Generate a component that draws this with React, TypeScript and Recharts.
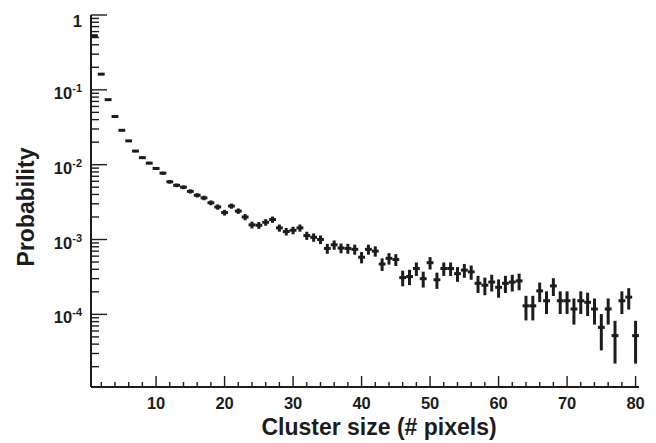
import { ReactElement } from 'react'
import { ScatterChart, Scatter, XAxis, YAxis, ErrorBar } from 'recharts'

const inkColor = '#1c1c1c'
const fontFamily = '"Liberation Sans", Arial, Helvetica, sans-serif'

const chartW = 656
const chartH = 443
const plotLeft = 91
const plotBottom = 387

// probability per cluster size 1..80
const probability = [
   0.53, 0.162, 0.074, 0.044, 0.0288, 0.0208, 0.0152, 0.0124, 0.0105, 0.0089,
   0.0077, 0.0059, 0.0053, 0.005, 0.0044, 0.0039, 0.0036, 0.0031, 0.00272, 0.00229,
   0.0028, 0.0024, 0.002, 0.00157, 0.00155, 0.0017, 0.00185, 0.00143, 0.00128, 0.00133,
   0.00143, 0.00113, 0.00107, 0.001, 0.00076, 0.00085, 0.00077, 0.00076, 0.00074, 0.00058,
   0.00074, 0.0007, 0.00047, 0.00056, 0.00054, 0.00031, 0.00032, 0.00041, 0.0003, 0.00049,
   0.00029, 0.00041, 0.00041, 0.00035, 0.00039, 0.00037, 0.00026, 0.000245, 0.00027, 0.00023,
   0.00026, 0.00027, 0.00028, 0.00013, 0.00013, 0.000206, 0.000152, 0.00024, 0.000152, 0.000152,
   0.000118, 0.000152, 0.000145, 0.000118, 0.000067, 0.000118, 0.000052, 0.000152, 0.00017, 0.000052
]

// vertical error bar half-lengths
const probabilityError = [
   0.003, 0.0017, 0.0011, 0.00087, 0.00071, 0.0006, 0.00051, 0.00046, 0.00043, 0.00039,
   0.00036, 0.00032, 0.0003, 0.00029, 0.00028, 0.00026, 0.00025, 0.00023, 0.00022, 0.0002,
   0.00022, 0.0002, 0.00019, 0.000165, 0.000164, 0.000171, 0.000179, 0.000157, 0.000149, 0.000152,
   0.000157, 0.00014, 0.000136, 0.000132, 0.000115, 0.000121, 0.000115, 0.000115, 0.000113, 0.0001,
   0.000113, 0.00011, 0.00009, 0.000098, 0.000097, 0.000073, 0.000074, 0.000084, 0.000072, 0.000092,
   0.000071, 0.000084, 0.000084, 0.000078, 0.000082, 0.00008, 0.000067, 0.000065, 0.000068, 0.000063,
   0.000067, 0.000068, 0.00007, 0.000047, 0.000047, 0.00006, 0.000051, 0.000064, 0.000051, 0.000051,
   0.000045, 0.000051, 0.00005, 0.000045, 0.000034, 0.000045, 0.00003, 0.000051, 0.000054, 0.00003
]

const binHalfWidth = 0.5
const xDomain: [number, number] = [0.5, 80.5]
const yDomain: [number, number] = [1.07e-5, 1]

const xTicks = [2, 4, 6, 8, 10, 12, 14, 16, 18, 20, 22, 24, 26, 28, 30, 32, 34, 36, 38, 40,
   42, 44, 46, 48, 50, 52, 54, 56, 58, 60, 62, 64, 66, 68, 70, 72, 74, 76, 78, 80]
const xMajorEvery = 10

const yDecades = [1e-5, 1e-4, 1e-3, 1e-2, 1e-1, 1]
const yMinorSteps = [2, 3, 4, 5, 6, 7, 8, 9]

const yTicks: number[] = []
yDecades.forEach(d => {
   if (d >= yDomain[0]) yTicks.push(d)
   if (d < 1) yMinorSteps.forEach(m => {
      const v = d * m
      if (v >= yDomain[0]) yTicks.push(v)
   })
})

const table = probability.map((p, i) => ({
   size: i + 1,
   p,
   err: probabilityError[i],
   xerr: binHalfWidth
}))

const renderYTick = (props: any): ReactElement => {
   const { y, payload } = props
   const v: number = payload.value
   const lg = Math.log10(v)
   const exp = Math.round(lg)
   const isMajor = Math.abs(lg - exp) < 1e-6
   return (
      <g>
         <line x1={ plotLeft } x2={ plotLeft + (isMajor ? 16 : 8) } y1={ y } y2={ y } stroke={ inkColor } strokeWidth={ 1.4 } />
         { isMajor && exp === 0 &&
            <text x={ 82 } y={ y + 12 } textAnchor='end' fontFamily={ fontFamily } fontWeight='bold' fontSize={ 16.5 } fill={ inkColor }>1</text>
         }
         { isMajor && exp !== 0 &&
            <text x={ 82 } y={ y + 9 } textAnchor='end' fontFamily={ fontFamily } fontWeight='bold' fontSize={ 16.5 } fill={ inkColor }>
               <tspan>10</tspan>
               <tspan dy={ -7 } fontSize={ 11 }>{ exp }</tspan>
            </text>
         }
      </g>
   )
}

const renderXTick = (props: any): ReactElement => {
   const { x, payload } = props
   const isMajor = payload.value % xMajorEvery === 0
   return (
      <g>
         <line x1={ x } x2={ x } y1={ plotBottom } y2={ plotBottom - (isMajor ? 11 : 5) } stroke={ inkColor } strokeWidth={ 1.4 } />
         { isMajor &&
            <text x={ x } y={ 409 } textAnchor='middle' fontFamily={ fontFamily } fontWeight='bold' fontSize={ 16.5 } fill={ inkColor }>{ payload.value }</text>
         }
      </g>
   )
}

export default function App(): ReactElement {
   return (
      <div style={{ position: 'absolute', left: 0, top: 0, background: '#fff' }}>
         <ScatterChart width={ chartW } height={ chartH } margin={{ top: 15, right: 17, bottom: 0, left: 0 }}>
            <XAxis
               dataKey='size'
               type='number'
               domain={ xDomain }
               allowDataOverflow
               ticks={ xTicks }
               interval={ 0 }
               height={ 56 }
               tickLine={ false }
               axisLine={{ stroke: inkColor, strokeWidth: 2 }}
               tick={ renderXTick }
               label={{
                  content: () => (
                     <text x={ 379 } y={ 435 } textAnchor='middle' fontFamily={ fontFamily } fontWeight='bold' fontSize={ 23 } fill={ inkColor }>
                        Cluster size (# pixels)
                     </text>
                  )
               }}
            />
            <XAxis xAxisId='top' orientation='top' type='number' domain={ xDomain } height={ 0 } tick={ false } tickLine={ false } axisLine={{ stroke: inkColor, strokeWidth: 2 }} />
            <YAxis
               dataKey='p'
               type='number'
               scale='log'
               domain={ yDomain }
               allowDataOverflow
               ticks={ yTicks }
               interval={ 0 }
               width={ 91 }
               tickLine={ false }
               axisLine={{ stroke: inkColor, strokeWidth: 2 }}
               tick={ renderYTick }
               label={{
                  content: () => (
                     <text x={ 34 } y={ 207 } transform='rotate(-90, 34, 207)' textAnchor='middle' fontFamily={ fontFamily } fontWeight='bold' fontSize={ 23 } fill={ inkColor }>
                        Probability
                     </text>
                  )
               }}
            />
            <YAxis yAxisId='right' orientation='right' type='number' domain={ [0, 1] } width={ 0 } tick={ false } tickLine={ false } axisLine={{ stroke: inkColor, strokeWidth: 2 }} />

            <Scatter data={ table } isAnimationActive={ false } shape={ () => <g /> }>
               <ErrorBar dataKey='err' direction='y' width={ 0 } stroke={ inkColor } strokeWidth={ 3 } isAnimationActive={ false } />
               <ErrorBar dataKey='xerr' direction='x' width={ 0 } stroke={ inkColor } strokeWidth={ 3 } isAnimationActive={ false } />
            </Scatter>
         </ScatterChart>
      </div>
   )
}
